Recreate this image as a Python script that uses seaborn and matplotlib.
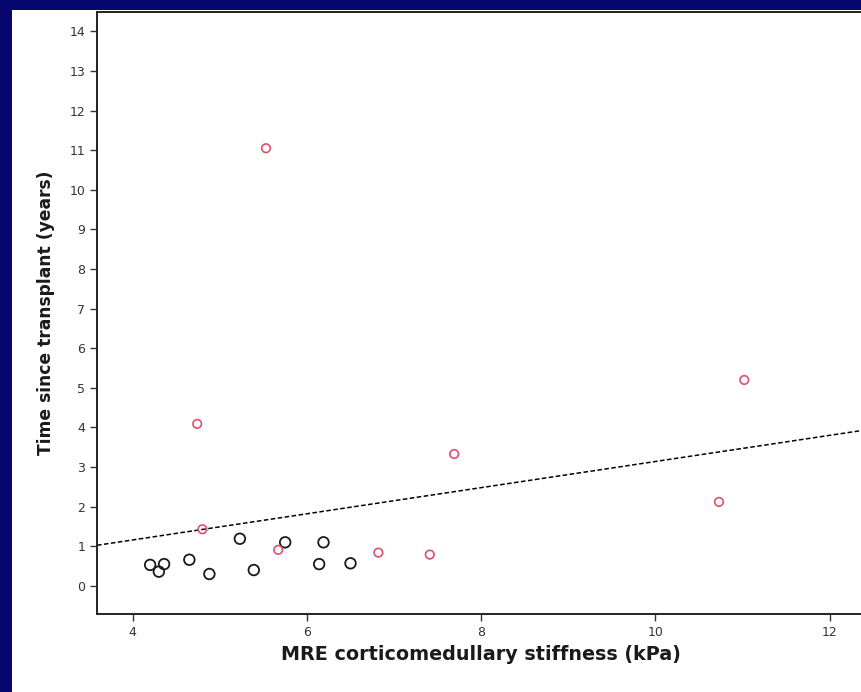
import pandas as pd
import matplotlib.pyplot as plt
import seaborn as sns
from matplotlib.patches import Rectangle

# values
black_x = [4.20, 4.30, 4.36, 4.65, 4.88, 5.23, 5.39, 5.75, 6.14, 6.19, 6.50]
black_y = [0.53, 0.36, 0.55, 0.66, 0.30, 1.19, 0.40, 1.10, 0.55, 1.10, 0.57]
red_x = [5.67, 6.82, 7.41, 4.80, 7.69, 4.74, 5.53, 11.02, 10.73]
red_y = [0.91, 0.84, 0.79, 1.43, 3.33, 4.09, 11.05, 5.20, 2.12]

df = pd.DataFrame({
    "x": black_x + red_x,
    "y": black_y + red_y,
    "group": ["black"] * len(black_x) + ["red"] * len(red_x),
})

sns.set_style("white")
plt.rcParams['font.family'] = ['DejaVu Sans']

fig = plt.figure(figsize=(8.61, 6.92), dpi=100)
fig.patch.set_facecolor("#06066e")
# white slide panel
fig.patches.append(Rectangle((12 / 861, 0), 1, 1 - 10 / 692, transform=fig.transFigure,
                             facecolor="white", edgecolor="none", zorder=-1))

ax = fig.add_axes([97 / 861, 1 - 614 / 692, 1 - 97 / 861, (614 - 12) / 692])
ax.set_zorder(1)
ax.set_facecolor("white")
ax.set_xlim(3.59, 12.36)
ax.set_ylim(-0.71, 14.49)

sns.regplot(data=df, x="x", y="y", scatter=False, ci=None, truncate=False, ax=ax,
            color="black", line_kws={"linestyle": (0, (3, 1.6)), "linewidth": 1.1})

blk = df[df["group"] == "black"]
red = df[df["group"] == "red"]
sns.scatterplot(data=blk, x="x", y="y", marker="o", s=58, facecolors="none",
                edgecolor="#1a1a1a", linewidth=1.3, ax=ax, zorder=3)
sns.scatterplot(data=red, x="x", y="y", marker="o", s=38, facecolors="none",
                edgecolor="#e0506e", linewidth=1.2, ax=ax, zorder=3)

ax.set_xticks([4, 6, 8, 10, 12])
ax.set_yticks(range(0, 15))
ax.tick_params(axis="both", direction="out", length=5, width=1, color="#333333",
               labelsize=9, labelcolor="#333333", bottom=True, left=True)
for side in ["left", "bottom", "top"]:
    ax.spines[side].set_color("#222222")
    ax.spines[side].set_linewidth(1.4)
ax.spines["right"].set_visible(False)

ax.set_xlabel("MRE corticomedullary stiffness (kPa)", fontsize=13.8, fontweight="bold",
              color="#1a1a1a")
ax.set_ylabel("Time since transplant (years)", fontsize=12.3, fontweight="bold",
              color="#1a1a1a", labelpad=10)
ax.xaxis.set_label_coords((481 - 97) / (861 - 97), -0.052)

fig.savefig("out.png", dpi=100, facecolor=fig.get_facecolor())
